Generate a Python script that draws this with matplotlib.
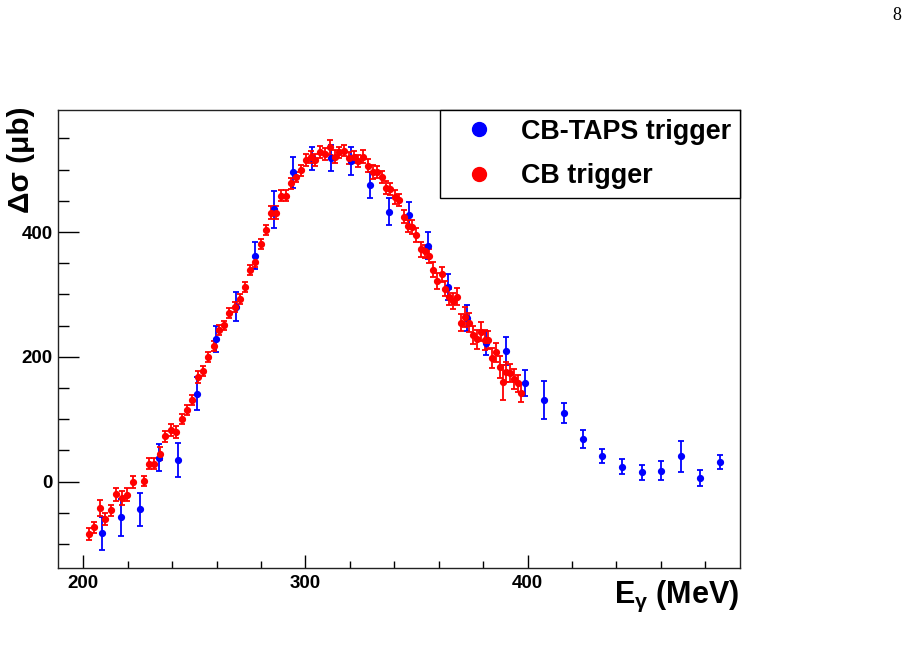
import matplotlib
matplotlib.use("Agg")
import matplotlib.pyplot as plt
from matplotlib.lines import Line2D
from matplotlib.ticker import MultipleLocator

plt.rcParams['font.family'] = ['Liberation Sans', 'DejaVu Sans']
plt.rcParams['font.weight'] = 'bold'
plt.rcParams['mathtext.fontset'] = 'custom'
plt.rcParams['mathtext.rm'] = 'Liberation Sans:bold'
plt.rcParams['mathtext.it'] = 'Liberation Sans:bold'
plt.rcParams['mathtext.bf'] = 'Liberation Sans:bold'

# CB-TAPS trigger (blue)
e_taps = [208.3, 217.0, 225.4, 233.9, 242.6, 251.3, 259.9, 268.6, 277.1, 285.8,
          294.5, 302.8, 311.5, 320.3, 329.0, 337.7, 346.6, 355.3, 364.0, 372.5,
          381.2, 390.1, 398.8, 407.5, 416.3, 425.0, 433.7, 442.6, 451.3, 460.0,
          468.9, 477.5, 486.4]
xs_taps = [-82.7, -57.0, -44.3, 38.5, 34.8, 141.0, 228.2, 280.4, 362.2, 436.5,
           495.8, 518.0, 518.0, 514.0, 475.5, 432.7, 427.4, 378.2, 312.0, 261.9,
           222.8, 209.5, 157.7, 130.9, 109.6, 68.4, 41.2, 24.0, 15.0, 17.6,
           40.7, 6.4, 31.6]
err_taps = [26.7, 30.0, 26.7, 22.0, 27.8, 26.7, 20.8, 23.5, 21.4, 30.0,
            24.8, 18.0, 20.8, 22.7, 20.6, 21.4, 21.4, 22.0, 21.0, 20.8,
            19.2, 21.9, 20.8, 30.7, 16.0, 14.0, 11.2, 11.7, 12.0, 15.2,
            25.0, 13.0, 11.7]

# CB trigger (red)
e_cb = [202.4, 204.8, 207.4, 209.9, 212.3, 214.9, 217.3, 219.8, 222.2, 227.2,
        229.6, 232.0, 234.5, 236.9, 239.5, 241.9, 244.3, 246.7, 249.1, 251.5,
        253.9, 256.3, 258.7, 261.0, 263.3, 265.7, 268.1, 270.5, 272.8, 275.2,
        277.4, 279.8, 282.1, 284.3, 286.7, 288.8, 291.2, 293.5, 295.7, 298.0,
        300.2, 302.3, 304.4, 306.7, 308.8, 311.0, 313.1, 315.2, 317.3, 319.7,
        321.7, 323.8, 326.0, 328.0, 330.2, 332.2, 334.3, 336.2, 338.2, 340.3,
        342.2, 344.2, 346.0, 347.9, 349.9, 351.8, 353.8, 355.7, 357.5, 359.4,
        361.3, 363.0, 364.8, 366.6, 368.3, 370.1, 371.9, 373.7, 375.5, 377.2,
        379.0, 380.6, 382.3, 384.1, 385.7, 387.4, 389.0, 390.5, 392.2, 393.8,
        395.5, 397.1]
xs_cb = [-83.8, -73.0, -42.6, -59.8, -45.8, -20.2, -25.6, -20.8, -0.5, 0.6,
         28.8, 28.8, 44.9, 72.7, 82.9, 79.6, 101.0, 115.4, 131.4, 167.8,
         177.9, 200.0, 217.5, 243.0, 250.6, 270.8, 280.4, 292.8, 311.5, 339.3,
         351.6, 380.4, 403.4, 431.1, 431.1, 458.3, 458.3, 478.2, 487.8, 499.0,
         515.5, 519.9, 515.0, 527.9, 525.2, 535.9, 520.8, 527.9, 530.4, 518.3,
         519.9, 514.0, 520.8, 506.4, 495.8, 495.8, 487.8, 471.2, 469.0, 455.8,
         451.4, 424.7, 409.8, 407.7, 395.4, 372.7, 369.0, 362.0, 339.3, 321.6,
         332.6, 308.8, 296.5, 290.0, 296.5, 254.8, 263.5, 254.8, 235.1, 228.2,
         240.4, 227.1, 227.1, 197.8, 207.4, 183.5, 159.3, 176.5, 174.2, 164.0,
         157.7, 142.6]
err_cb = [9, 9, 13, 10, 9, 10, 11, 10, 9, 8,
          9, 9, 10, 9, 9, 9, 8, 8, 8, 9,
          8, 8, 8, 8, 7, 8, 8, 8, 8, 8,
          8, 8, 8, 10, 10, 9, 9, 9, 8, 9,
          10, 10, 10, 10, 10, 12, 10, 9, 9, 10,
          10, 10, 11, 10, 11, 10, 10, 11, 10, 11,
          10, 10, 10, 11, 11, 12, 11, 11, 12, 13,
          12, 12, 13, 13, 14, 14, 16, 15, 14, 15,
          15, 16, 15, 16, 15, 18, 28, 16, 15, 16,
          14, 15]

labels = ["CB-TAPS trigger", "CB trigger"]
colors = ['#0000ff', '#ff0000']

fig = plt.figure(figsize=(9.13, 6.54), dpi=100)
ax = fig.add_axes([0.0635, 0.131, 0.7465, 0.701])

ax.errorbar(e_taps, xs_taps, yerr=err_taps, fmt='o', color=colors[0], ms=4.2,
            elinewidth=1.3, capsize=2, capthick=1.3)
ax.errorbar(e_cb, xs_cb, yerr=err_cb, fmt='o', color=colors[1], ms=4.2,
            elinewidth=1.3, capsize=2, capthick=1.3)

ax.set_xlim(188.6, 495.4)
ax.set_ylim(-138.8, 595.7)

ax.xaxis.set_major_locator(MultipleLocator(100))
ax.xaxis.set_minor_locator(MultipleLocator(20))
ax.yaxis.set_major_locator(MultipleLocator(200))
ax.yaxis.set_minor_locator(MultipleLocator(50))
ax.tick_params(axis='x', which='major', direction='in', length=9.4, width=1, pad=5, labelsize=13.5)
ax.tick_params(axis='x', which='minor', direction='in', length=4.7, width=1)
ax.tick_params(axis='y', which='major', direction='in', length=15, width=1, pad=4, labelsize=13.5)
ax.tick_params(axis='y', which='minor', direction='in', length=7.7, width=1)
for lab in ax.get_xticklabels() + ax.get_yticklabels():
    lab.set_fontweight('bold')
for sp in ax.spines.values():
    sp.set_linewidth(1.0)
    sp.set_color('#222222')

ax.text(1.0, -0.0757, r'E$_{\gamma}$ (MeV)', transform=ax.transAxes,
        ha='right', va='baseline', fontsize=22, fontweight='bold')
ax.text(-0.0545, 1.007, 'Δσ (μb)', transform=ax.transAxes, rotation=90,
        ha='center', va='top', fontsize=21.5, fontweight='bold')

handles = [Line2D([], [], marker='o', ls='none', color=c, ms=10) for c in colors]
leg = ax.legend(handles, labels, loc='upper right', bbox_to_anchor=(1.0, 1.0),
                borderaxespad=0, fancybox=False, framealpha=1, edgecolor='black',
                prop={'size': 19.4, 'weight': 'bold'}, handletextpad=0.4,
                borderpad=0.33, labelspacing=0.68, handlelength=2.27)
leg.get_frame().set_linewidth(1.0)

fig.text(897 / 913, 1 - 15 / 654, '8', family='Liberation Serif', fontweight='normal',
         fontsize=13, ha='center', va='center')

fig.savefig('out.png', dpi=100)
